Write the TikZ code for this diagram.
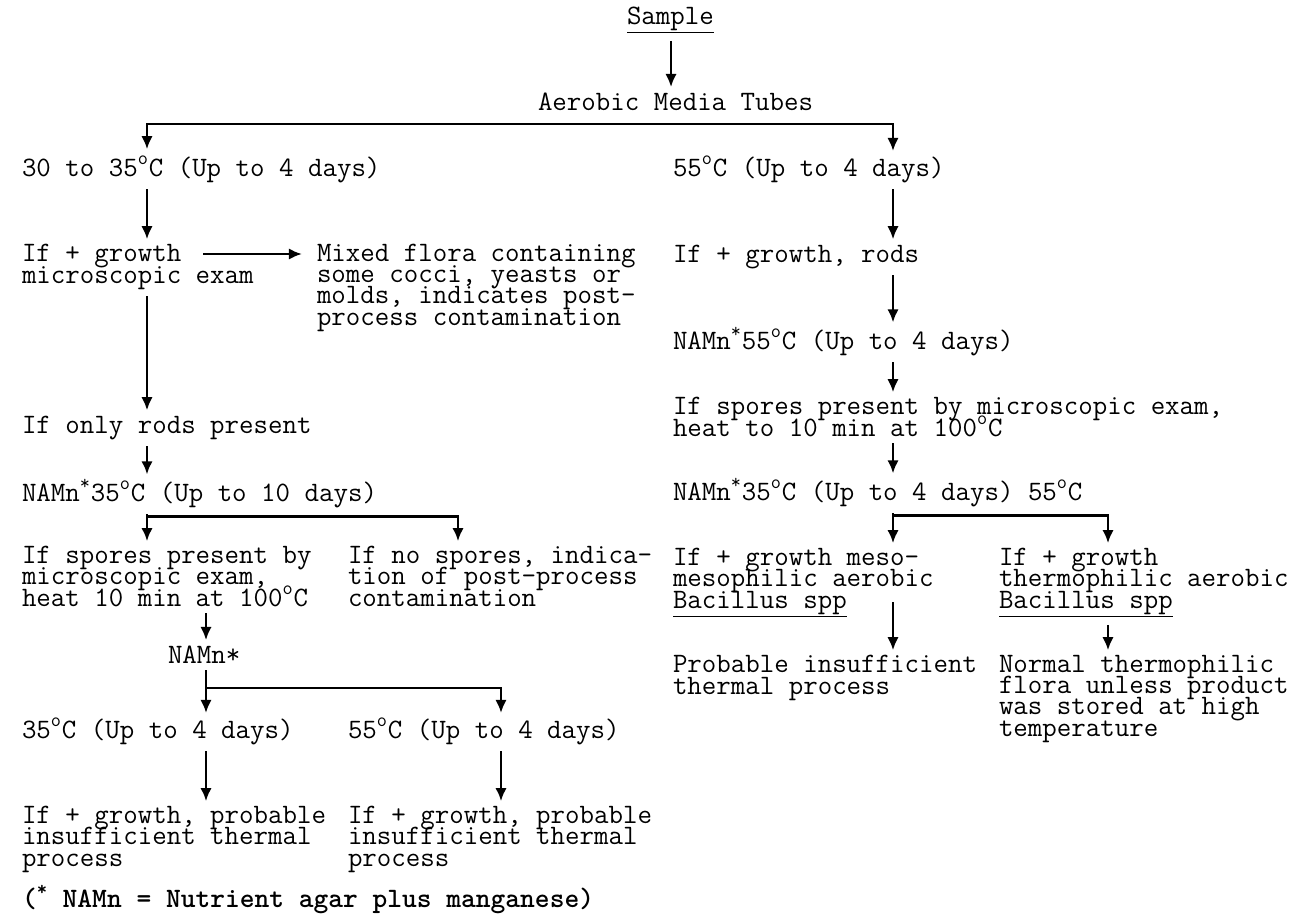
\documentclass[tikz,border=0pt]{standalone}
\usetikzlibrary{arrows.meta,calc}

\newcommand{\dg}{\textsuperscript{o}}
\newcommand{\namn}{NAMn\textsuperscript{*}}

\lineskiplimit=-50pt\relax

\tikzset{
  lbl/.style={anchor=base west, align=left, inner sep=0pt, outer sep=0pt,
    font=\ttfamily\fontsize{16}{12}\selectfont},
  arr/.style={-{Latex[length=7.5pt,width=6.5pt]}, line width=1.5pt},
  fork/.style={{Latex[length=7.5pt,width=6.5pt]}-{Latex[length=7.5pt,width=6.5pt]}, line width=1.5pt},
  gap/.style={shorten <=4pt, shorten >=3pt}
}

\begin{document}
\begin{tikzpicture}[x=0.02cm,y=-0.02cm]

\useasboundingbox (0,0) rectangle (1307,916);

% Draw Columns for the arrows
% (base of a node = baseline of its last line)

\coordinate (colA) at (671,0);
\coordinate (colL) at (147,0);
\coordinate (colR) at (893,0);
\coordinate (colRR) at (1108,0);
\coordinate (colN) at (458,0);
\coordinate (colS) at (206,0);
\coordinate (colS2) at (501,0);

% Draw Top

\node[lbl] (sample) at (627,24) {\underline{Sample}};

\node[lbl] (aerobic) at (538,110) {Aerobic Media Tubes};

% Draw Left Branch (30 to 35 C)

\node[lbl] (mesoA) at (22,176) {30 to 35\dg C (Up to 4 days)};

\node[lbl] (growthL) at (22,283) {If + growth\\microscopic exam};

\node[lbl] (mixed) at (317,325) {Mixed flora containing\\some cocci, yeasts or\\molds, indicates post-\\process contamination};

\node[lbl] (rodsL) at (22,433) {If only rods present};

\node[lbl] (namnL) at (22,501) {\namn 35\dg C (Up to 10 days)};

\node[lbl] (sporesL) at (22,606) {If spores present by\\microscopic exam,\\heat 10 min at 100\dg C};

\node[lbl] (nosp) at (348,606) {If no spores, indica-\\tion of post-process\\contamination};

\node[lbl] (namnS) at (168,663) {NAMn*};

\node[lbl] (c35) at (22,738) {35\dg C (Up to 4 days)};

\node[lbl] (c55) at (348,738) {55\dg C (Up to 4 days)};

\node[lbl] (probL) at (22,866) {If + growth, probable\\insufficient thermal\\process};

\node[lbl] (probM) at (348,866) {If + growth, probable\\insufficient thermal\\process};

% Draw Right Branch (55 C)

\node[lbl] (thermA) at (673,176) {55\dg C (Up to 4 days)};

\node[lbl] (growthR) at (673,262) {If + growth, rods};

\node[lbl] (namnR1) at (673,349) {\namn 55\dg C (Up to 4 days)};

\node[lbl] (sporesR) at (673,436) {If spores present by microscopic exam,\\heat to 10 min at 100\dg C};

\node[lbl] (namnR2) at (673,500) {\namn 35\dg C (Up to 4 days) 55\dg C};

\node[lbl] (mesoR) at (673,608) {If + growth meso-\\mesophilic aerobic\\\underline{Bacillus spp}};

\node[lbl] (thermoR) at (999,608) {If + growth\\thermophilic aerobic\\\underline{Bacillus spp}};

\node[lbl] (probR) at (673,694) {Probable insufficient\\thermal process};

\node[lbl] (normR) at (999,736) {Normal thermophilic\\flora unless product\\was stored at high\\temperature};

% Draw Footnote

\node[lbl, font=\ttfamily\bfseries\fontsize{16}{12}\selectfont] (note) at (22,907) {(\textsuperscript{*} NAMn = Nutrient agar plus manganese)};

% Draw Fork points

\coordinate (topfork) at ($(aerobic.south)+(0,14)$);
\coordinate (forkL) at ($(namnL.south)+(0,9)$);
\coordinate (forkR) at ($(namnR2.south)+(0,9)$);
\coordinate (forkS) at ($(namnS.south)+(0,25)$);
\coordinate (hx) at (203,254);
\coordinate (mesoTop) at ($(colR |- mesoR.base)+(0,-6)$);

% Draw Arrows

\draw[arr, gap] (colA |- sample.south) -- (colA |- aerobic.north);

\draw[fork, gap] (colL |- mesoA.north) -- (colL |- topfork) -- (colR |- topfork) -- (colR |- thermA.north);

\draw[arr, gap] (colL |- mesoA.south) -- (colL |- growthL.north);

\draw[arr] (hx) -- ($(hx -| mixed.west)+(-15,0)$);

\draw[arr, gap] (colL |- growthL.south) -- (colL |- rodsL.north);

\draw[arr, gap] (colL |- rodsL.south) -- (colL |- namnL.north);

\draw[arr, gap] (colL |- namnL.south) -- (colL |- sporesL.north);

\draw[arr, shorten >=3pt] (colL |- forkL) -- (colN |- forkL) -- (colN |- nosp.north);

\draw[arr, gap] (colS |- sporesL.south) -- (colS |- namnS.north);

\draw[arr, gap] (colS |- namnS.south) -- (colS |- c35.north);

\draw[arr, shorten >=3pt] (colS |- forkS) -- (colS2 |- forkS) -- (colS2 |- c55.north);

\draw[arr, gap] (colS |- c35.south) -- (colS |- probL.north);

\draw[arr, gap] (colS2 |- c55.south) -- (colS2 |- probM.north);

\draw[arr, gap] (colR |- thermA.south) -- (colR |- growthR.north);

\draw[arr, gap] (colR |- growthR.south) -- (colR |- namnR1.north);

\draw[arr, gap] (colR |- namnR1.south) -- (colR |- sporesR.north);

\draw[arr, gap] (colR |- sporesR.south) -- (colR |- namnR2.north);

\draw[arr, gap] (colR |- namnR2.south) -- (colR |- mesoR.north);

\draw[arr, shorten >=3pt] (colR |- forkR) -- (colRR |- forkR) -- (colRR |- thermoR.north);

\draw[arr, shorten >=3pt] (mesoTop) -- (colR |- probR.north);

\draw[arr, gap] (colRR |- thermoR.south) -- (colRR |- normR.north);

\end{tikzpicture}
\end{document}
